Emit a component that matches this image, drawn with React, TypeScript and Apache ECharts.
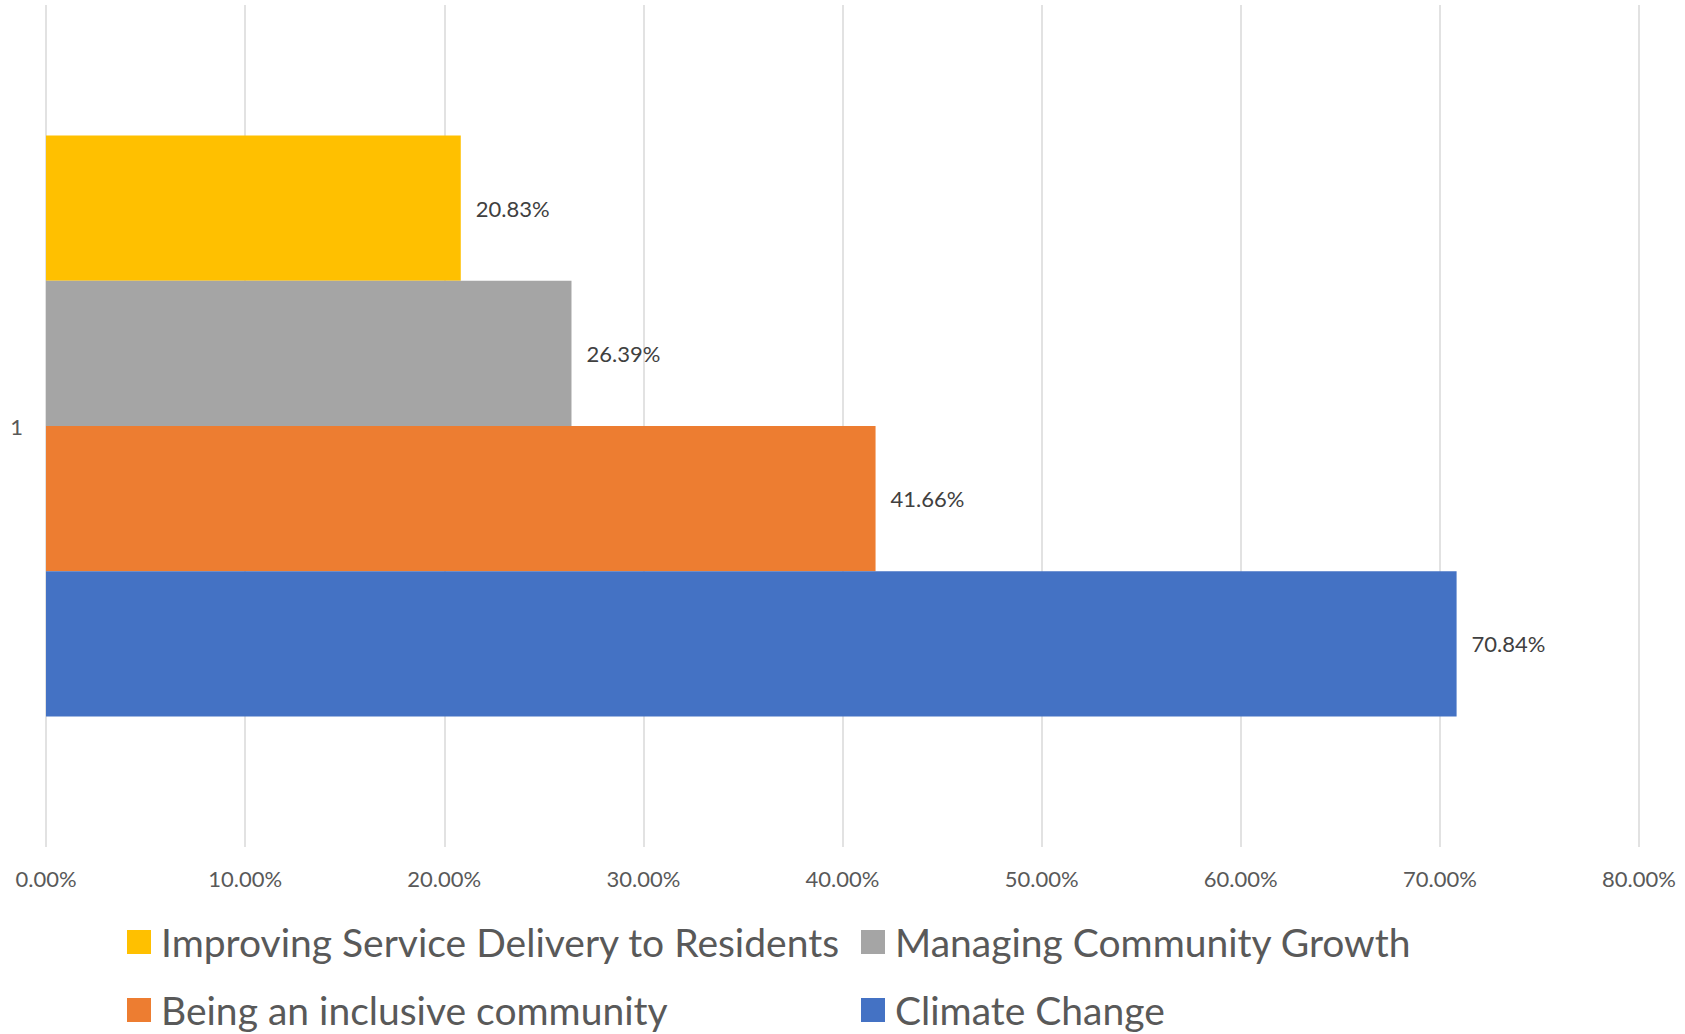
import React, { useEffect, useRef } from "react";
import * as echarts from "echarts";

const categories = ["1"];
const seriesNames = [
  "Improving Service Delivery to Residents",
  "Managing Community Growth",
  "Being an inclusive community",
  "Climate Change",
];
const seriesValues = [20.83, 26.39, 41.66, 70.84];
const seriesColors = ["#FFC000", "#A5A5A5", "#ED7D31", "#4472C4"];
const axisMax = 80;
const axisInterval = 10;

const FONT = "Lato";

export default function App() {
  const ref = useRef<HTMLDivElement>(null);
  useEffect(() => {
    if (!ref.current) return;
    const chart = echarts.init(ref.current, undefined, { renderer: "svg" });
    const legendPos = [
      { left: 127, top: 917 },
      { left: 861, top: 917 },
      { left: 127, top: 985 },
      { left: 861, top: 985 },
    ];
    chart.setOption({
      animation: false,
      backgroundColor: "#ffffff",
      grid: { left: 46, right: 46, top: 5, bottom: 187, containLabel: false },
      xAxis: {
        type: "value",
        min: 0,
        max: axisMax,
        interval: axisInterval,
        axisLine: { show: false },
        axisTick: { show: false },
        splitLine: { show: true, lineStyle: { color: "#D9D9D9", width: 1.5 } },
        axisLabel: {
          formatter: (v: number) => v.toFixed(2) + "%",
          fontFamily: FONT,
          fontSize: 22,
          lineHeight: 24,
          color: "#595959",
          margin: 19,
        },
      },
      yAxis: {
        type: "category",
        data: categories,
        axisLine: { show: false },
        axisTick: { show: false },
        axisLabel: {
          fontFamily: FONT,
          fontSize: 22,
          color: "#595959",
          margin: 23,
        },
      },
      legend: seriesNames.map((n, i) => ({
        data: [n],
        left: legendPos[i].left,
        top: legendPos[i].top,
        padding: 0,
        itemWidth: 24,
        itemHeight: 24,
        icon: "rect",
        textStyle: {
          fontFamily: FONT,
          fontSize: 39,
          lineHeight: 50,
          color: "#595959",
          padding: [0, 0, 0, 5],
        },
      })),
      series: seriesNames.map((n, i) => ({
        type: "bar",
        name: n,
        data: [seriesValues[i]],
        barGap: "0%",
        barCategoryGap: "31%",
        itemStyle: { color: seriesColors[i] },
        label: {
          show: true,
          position: "right",
          distance: 15,
          formatter: (p: any) => Number(p.value).toFixed(2) + "%",
          fontFamily: FONT,
          fontSize: 22,
          color: "#404040",
        },
      })),
    });
    return () => chart.dispose();
  }, []);
  return (
    <div
      ref={ref}
      style={{ position: "fixed", left: 0, top: 0, width: 1685, height: 1034 }}
    />
  );
}
